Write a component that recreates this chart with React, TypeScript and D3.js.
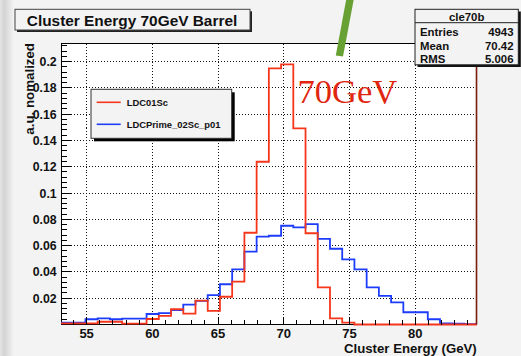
import React from "react";
import * as d3 from "d3";

// Histogram binning (GeV) and contents (a.u., normalized)
const binStart = 53.05;
const binWidth = 0.93;

const ldc01Sc = [
  0.0008, 0.0008, 0.0008, 0.0021, 0.0021, 0.0006, 0.0006, 0.0042, 0.0065, 0.0116,
  0.0082, 0.0181, 0.0103, 0.0211, 0.0326, 0.0698, 0.1238, 0.1948, 0.1979, 0.1492,
  0.0694, 0.0283, 0.0047, 0.0014, 0.0, 0.0, 0.0, 0.0, 0.0, 0.0,
  0.0, 0.0, 0.0, 0.0,
];

const ldcPrime02ScP01 = [
  0.0014, 0.0014, 0.004, 0.0047, 0.004, 0.0044, 0.0044, 0.008, 0.0087, 0.011,
  0.0151, 0.0179, 0.0224, 0.0306, 0.042, 0.0554, 0.0668, 0.0675, 0.0751, 0.0739,
  0.0764, 0.0652, 0.0576, 0.0496, 0.042, 0.0283, 0.0217, 0.0169, 0.0093, 0.0093,
  0.004, 0.0009, 0.0006, 0.0003,
];

const seriesNames = ["LDC01Sc", "LDCPrime_02Sc_p01"];
const seriesColors = ["#f6361b", "#1d3dfb"];

const xTicks = [55, 60, 65, 70, 75, 80];
const yTicks = [0.02, 0.04, 0.06, 0.08, 0.1, 0.12, 0.14, 0.16, 0.18, 0.2];
const yTickLabels = ["0.02", "0.04", "0.06", "0.08", "0.1", "0.12", "0.14", "0.16", "0.18", "0.2"];

const statsName = "cle70b";
const statsLabels = ["Entries", "Mean", "RMS"];
const statsValues = ["4943", "70.42", "5.006"];

const W = 521;
const H = 356;
const SANS = "'Liberation Sans', Arial, Helvetica, sans-serif";
const SERIF = "'Liberation Serif', 'Times New Roman', serif";
const PAD_BG = "#f3f3f3";

// snap a coordinate to the middle of a device pixel for crisp 1px strokes
const crisp = (v: number) => Math.round(v - 0.5) + 0.5;

export default function App() {
  const frame = { left: 61, right: 476.7, top: 43, bottom: 324.5 };
  const nBins = ldc01Sc.length;

  const x = d3
    .scaleLinear()
    .domain([binStart, binStart + nBins * binWidth])
    .range([frame.left, frame.right]);
  const y = d3.scaleLinear().domain([0, 0.2141]).range([frame.bottom, frame.top]);

  const stepPath = (vals: number[]) => {
    const pts: [number, number][] = [];
    vals.forEach((v, i) => {
      const x0 = binStart + i * binWidth;
      pts.push([x0, v], [x0 + binWidth, v]);
    });
    return d3
      .line<[number, number]>()
      .x((d) => x(d[0]))
      .y((d) => y(d[1]))(pts) as string;
  };

  const xMinor = d3.range(54, 85, 1).filter((v) => !xTicks.includes(v));
  const yMinor = d3
    .range(1, 54)
    .map((k) => +(k * 0.004).toFixed(4))
    .filter((v) => !yTicks.some((t) => Math.abs(t - v) < 1e-6) && v < 0.2141);

  const dotted = { stroke: "#111", strokeWidth: 1, strokeDasharray: "1 2", shapeRendering: "crispEdges" as const };
  const fl = crisp(frame.left);
  const ft = crisp(frame.top);
  const fb = crisp(frame.bottom);
  const fr = crisp(frame.right);

  return (
    <div style={{ position: "fixed", left: 0, top: 0 }}>
      <svg width={W} height={H} viewBox={`0 0 ${W} ${H}`}>
        <defs>
          <linearGradient id="edgeShade" x1="0" x2="1" y1="0" y2="0">
            <stop offset="0" stopColor="#e4e4e4" />
            <stop offset="0.3" stopColor="#d3d3d3" />
            <stop offset="1" stopColor={PAD_BG} />
          </linearGradient>
        </defs>

        {/* pad */}
        <rect x={0} y={0} width={W} height={H} fill={PAD_BG} />
        <rect x={0} y={0} width={14} height={H} fill="url(#edgeShade)" />

        {/* plotting frame */}
        <rect x={fl} y={ft} width={fr - fl} height={fb - ft} fill="#fff" />

        {/* grid */}
        {xTicks.map((t) => (
          <line key={`gx${t}`} x1={crisp(x(t))} x2={crisp(x(t))} y1={ft} y2={fb} {...dotted} />
        ))}
        {yTicks.map((t) => (
          <line key={`gy${t}`} x1={fl} x2={fr} y1={crisp(y(t))} y2={crisp(y(t))} {...dotted} />
        ))}

        <rect
          x={fl}
          y={ft}
          width={fr - fl}
          height={fb - ft}
          fill="none"
          stroke="#000"
          strokeWidth={1}
          shapeRendering="crispEdges"
        />

        {/* histograms */}
        <path d={stepPath(ldcPrime02ScP01)} fill="none" stroke={seriesColors[1]} strokeWidth={1.8} />
        <path d={stepPath(ldc01Sc)} fill="none" stroke={seriesColors[0]} strokeWidth={1.8} />

        <line x1={fr} x2={fr} y1={ft} y2={fb} stroke="#7d1b0d" strokeWidth={1.6} />

        {/* x axis ticks */}
        <g shapeRendering="crispEdges">
          {xTicks.map((t) => (
            <line key={`xt${t}`} x1={crisp(x(t))} x2={crisp(x(t))} y1={fb} y2={fb - 8} stroke="#000" strokeWidth={1} />
          ))}
          {xMinor.map((t) => (
            <line key={`xm${t}`} x1={crisp(x(t))} x2={crisp(x(t))} y1={fb} y2={fb - 4.5} stroke="#000" strokeWidth={1} />
          ))}
        </g>
        {xTicks.map((t) => (
          <text
            key={`xl${t}`}
            x={x(t)}
            y={337.5}
            textAnchor="middle"
            fontFamily={SANS}
            fontWeight="bold"
            fontSize={13}
            fill="#111"
          >
            {t}
          </text>
        ))}
        <text
          x={frame.right}
          y={352.5}
          textAnchor="end"
          fontFamily={SANS}
          fontWeight="bold"
          fontSize={13.2}
          fill="#111"
        >
          Cluster Energy (GeV)
        </text>

        {/* y axis ticks */}
        <g shapeRendering="crispEdges">
          {yTicks.map((t) => (
            <line key={`yt${t}`} x1={fl} x2={fl + 9} y1={crisp(y(t))} y2={crisp(y(t))} stroke="#000" strokeWidth={1} />
          ))}
          {yMinor.map((t) => (
            <line key={`ym${t}`} x1={fl} x2={fl + 5} y1={crisp(y(t))} y2={crisp(y(t))} stroke="#000" strokeWidth={1} />
          ))}
        </g>
        {yTicks.map((t, i) => (
          <text
            key={`yl${t}`}
            x={56.7}
            y={y(t) + 4.5}
            textAnchor="end"
            fontFamily={SANS}
            fontWeight="bold"
            fontSize={12.3}
            fill="#111"
          >
            {yTickLabels[i]}
          </text>
        ))}
        <text
          transform={`translate(34,43) rotate(-90)`}
          textAnchor="end"
          fontFamily={SANS}
          fontWeight="bold"
          fontSize={13.3}
          fill="#111"
        >
          a.u. nomalized
        </text>

        {/* legend */}
        <rect x={94} y={92.3} width={140.7} height={49} fill="#000" />
        <rect x={91} y={89.3} width={140.7} height={49} fill={PAD_BG} stroke="#333" strokeWidth={1} />
        {seriesNames.map((name, i) => (
          <g key={name}>
            <line
              x1={96.7}
              x2={120.7}
              y1={102.3 + i * 22}
              y2={102.3 + i * 22}
              stroke={seriesColors[i]}
              strokeWidth={1.6}
            />
            <text
              x={126.7}
              y={106 + i * 21.5}
              fontFamily={SANS}
              fontWeight="bold"
              fontSize={9.4}
              fill="#111"
            >
              {name}
            </text>
          </g>
        ))}

        {/* energy label */}
        <text x={297.5} y={103.3} fontFamily={SERIF} fontSize={34.5} fill="#e0260f">
          70GeV
        </text>

        {/* title */}
        <rect x={17} y={11.3} width={235} height={20.7} fill="#222" />
        <rect x={15} y={9.3} width={235} height={20.7} fill={PAD_BG} stroke="#444" strokeWidth={1} />
        <text
          x={132}
          y={25.5}
          textAnchor="middle"
          fontFamily={SANS}
          fontWeight="bold"
          fontSize={15.4}
          fill="#111"
        >
          Cluster Energy 70GeV Barrel
        </text>

        {/* statistics box */}
        <rect x={417.5} y={11.5} width={103.3} height={55.5} fill="#111" />
        <rect x={415} y={9.3} width={103.3} height={55.5} fill={PAD_BG} stroke="#222" strokeWidth={1} />
        <line x1={415} x2={518.3} y1={22.7} y2={22.7} stroke="#222" strokeWidth={1} />
        <text
          x={466.7}
          y={20.5}
          textAnchor="middle"
          fontFamily={SANS}
          fontWeight="bold"
          fontSize={11.4}
          fill="#111"
        >
          {statsName}
        </text>
        {statsLabels.map((lab, i) => (
          <g key={lab}>
            <text x={420} y={36 + i * 13.7} fontFamily={SANS} fontWeight="bold" fontSize={11.4} fill="#111">
              {lab}
            </text>
            <text
              x={513.5}
              y={36 + i * 13.7}
              textAnchor="end"
              fontFamily={SANS}
              fontWeight="bold"
              fontSize={11.4}
              fill="#111"
            >
              {statsValues[i]}
            </text>
          </g>
        ))}

        {/* pointer stroke */}
        <polygon points="346.5,-2 354,-2 343,56.5 335.8,55.5" fill="#67a033" />
      </svg>
    </div>
  );
}
